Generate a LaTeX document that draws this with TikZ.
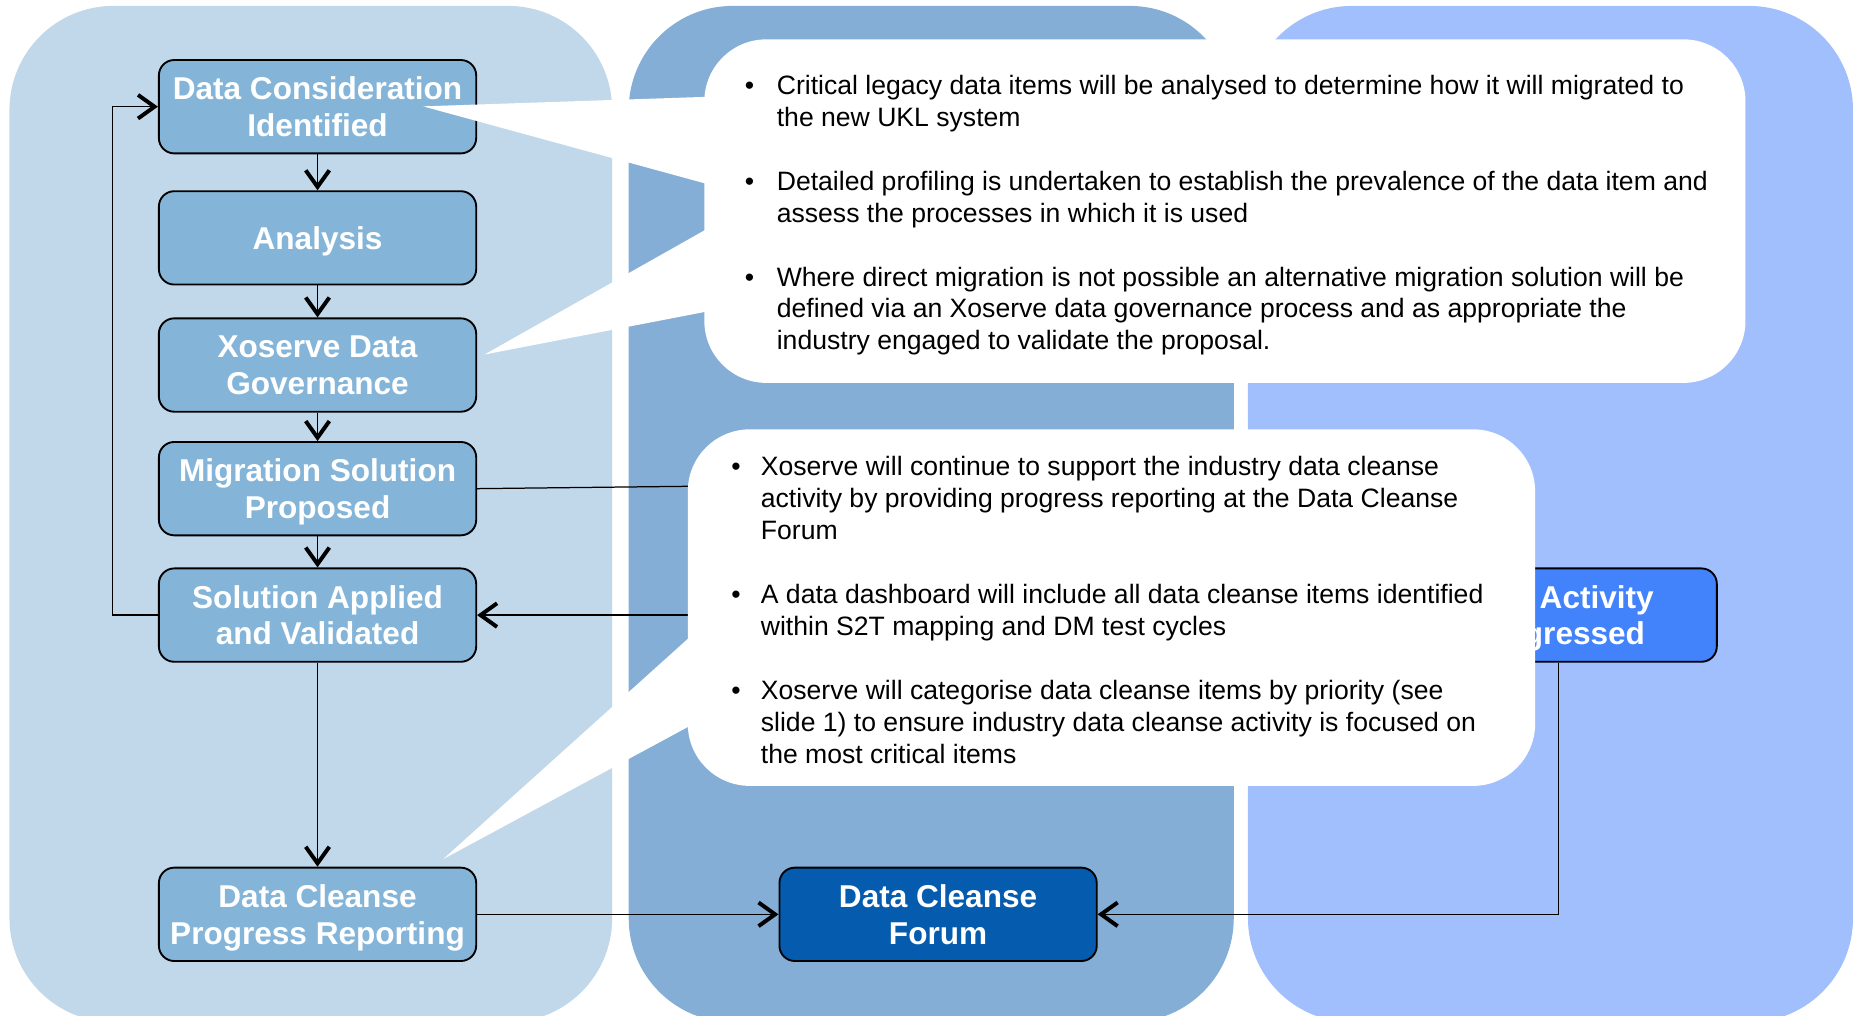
\documentclass[tikz,border=0pt]{standalone}
\usepackage{fontspec}
\setmainfont{Liberation Sans}
\usetikzlibrary{arrows.meta}

\definecolor{lanepale}{HTML}{C0D8EA}
\definecolor{lanemid}{HTML}{84AED6}
\definecolor{lanesky}{HTML}{A0BFFC}
\definecolor{stepfill}{HTML}{84B5D8}
\definecolor{forumfill}{HTML}{055BAD}
\definecolor{activefill}{HTML}{4282FA}

\newcommand{\bulletmark}[1]{\llap{\makebox[#1][l]{\textbullet}}}

\begin{document}
\begin{tikzpicture}[x=0.2mm, y=-0.2mm,
  lane/.style={rounded corners=17.6mm},
  stepbox/.style={draw=black, line width=0.9pt, rounded corners=2.6mm,
    fill=stepfill, text=white, align=center, inner sep=0pt, text depth=-1.2mm,
    minimum width=53.7mm, minimum height=15.8mm,
    font=\fontsize{15.2}{17.7}\selectfont\bfseries},
  flow/.style={line width=0.6pt,
    -{Straight Barb[length=2.8mm, width=4mm, line width=1.9pt]}},
  callout/.style={fill=white, rounded corners=10.5mm},
  notes/.style={anchor=north west, align=left, inner sep=0pt,
    font=\fontsize{12.8}{15.4}\selectfont}]

  \clip (0,0) rectangle (1568,859);

  % three background lanes
  \fill[lanepale, lane] (8,5) rectangle (518,865);
  \fill[lanemid, lane] (532,5) rectangle (1044,865);
  \fill[lanesky, lane] (1056,5) rectangle (1568,865);

  % process steps
  \node[stepbox] (consider) at (268.7,90.3) {Data Consideration\\Identified};
  \node[stepbox] (analysis) at (268.7,201.3) {Analysis};
  \node[stepbox] (governance) at (268.7,308.9) {Xoserve Data\\Governance};
  \node[stepbox] (proposed) at (268.7,413.5) {Migration Solution\\Proposed};
  \node[stepbox] (applied) at (268.7,520.5) {Solution Applied\\and Validated};
  \node[stepbox] (reporting) at (268.7,773.7) {Data Cleanse\\Progress Reporting};
  \node[stepbox, fill=forumfill] (forum) at (793.8,773.7) {Data Cleanse\\Forum};
  \node[stepbox, fill=activefill] (progressed) at (1318.5,520.5) {Data Activity\\Progressed};

  % connectors
  \draw[flow] (consider) -- (analysis);
  \draw[flow] (analysis) -- (governance);
  \draw[flow] (governance) -- (proposed);
  \draw[flow] (proposed) -- (applied);
  \draw[flow] (applied) -- (reporting);
  \draw[flow] (applied.west) -- ++(-38.7,0) |- (consider.west);
  \draw[flow] (reporting) -- (forum);
  \draw[flow] (progressed.south) |- (forum.east);
  \draw[flow] (progressed.west) -- (applied.east);
  \coordinate (toactivity) at (700,410.2);
  \draw[line width=0.6pt] (proposed.east) -- (toactivity);

  % upper callout
  \fill[callout] (596,33.3) rectangle (1477,324);
  \fill[white] (358,90) -- (605,81.7) -- (605,157.5) -- cycle;
  \fill[white] (410,300) -- (605,189.9) -- (605,262.3) -- cycle;
  \node[notes] (migration) at (657,63) {%
    \bulletmark{5.4mm}Critical legacy data items will be analysed to determine how it will migrated to\\
    the new UKL system\\[15.4pt]
    \bulletmark{5.4mm}Detailed profiling is undertaken to establish the prevalence of the data item and\\
    assess the processes in which it is used\\[15.4pt]
    \bulletmark{5.4mm}Where direct migration is not possible an alternative migration solution will be\\
    defined via an Xoserve data governance process and as appropriate the\\
    industry engaged to validate the proposal.};

  % lower callout
  \fill[callout] (582,363.3) rectangle (1299,665);
  \fill[white] (375,727) -- (600,524.4) -- (600,605.5) -- cycle;
  \node[notes] (cleanse) at (643.5,385.5) {%
    \bulletmark{5mm}Xoserve will continue to support the industry data cleanse\\
    activity by providing progress reporting at the Data Cleanse\\
    Forum\\[15.4pt]
    \bulletmark{5mm}A data dashboard will include all data cleanse items identified\\
    within S2T mapping and DM test cycles\\[15.4pt]
    \bulletmark{5mm}Xoserve will categorise data cleanse items by priority (see\\
    slide 1) to ensure industry data cleanse activity is focused on\\
    the most critical items};
\end{tikzpicture}
\end{document}
